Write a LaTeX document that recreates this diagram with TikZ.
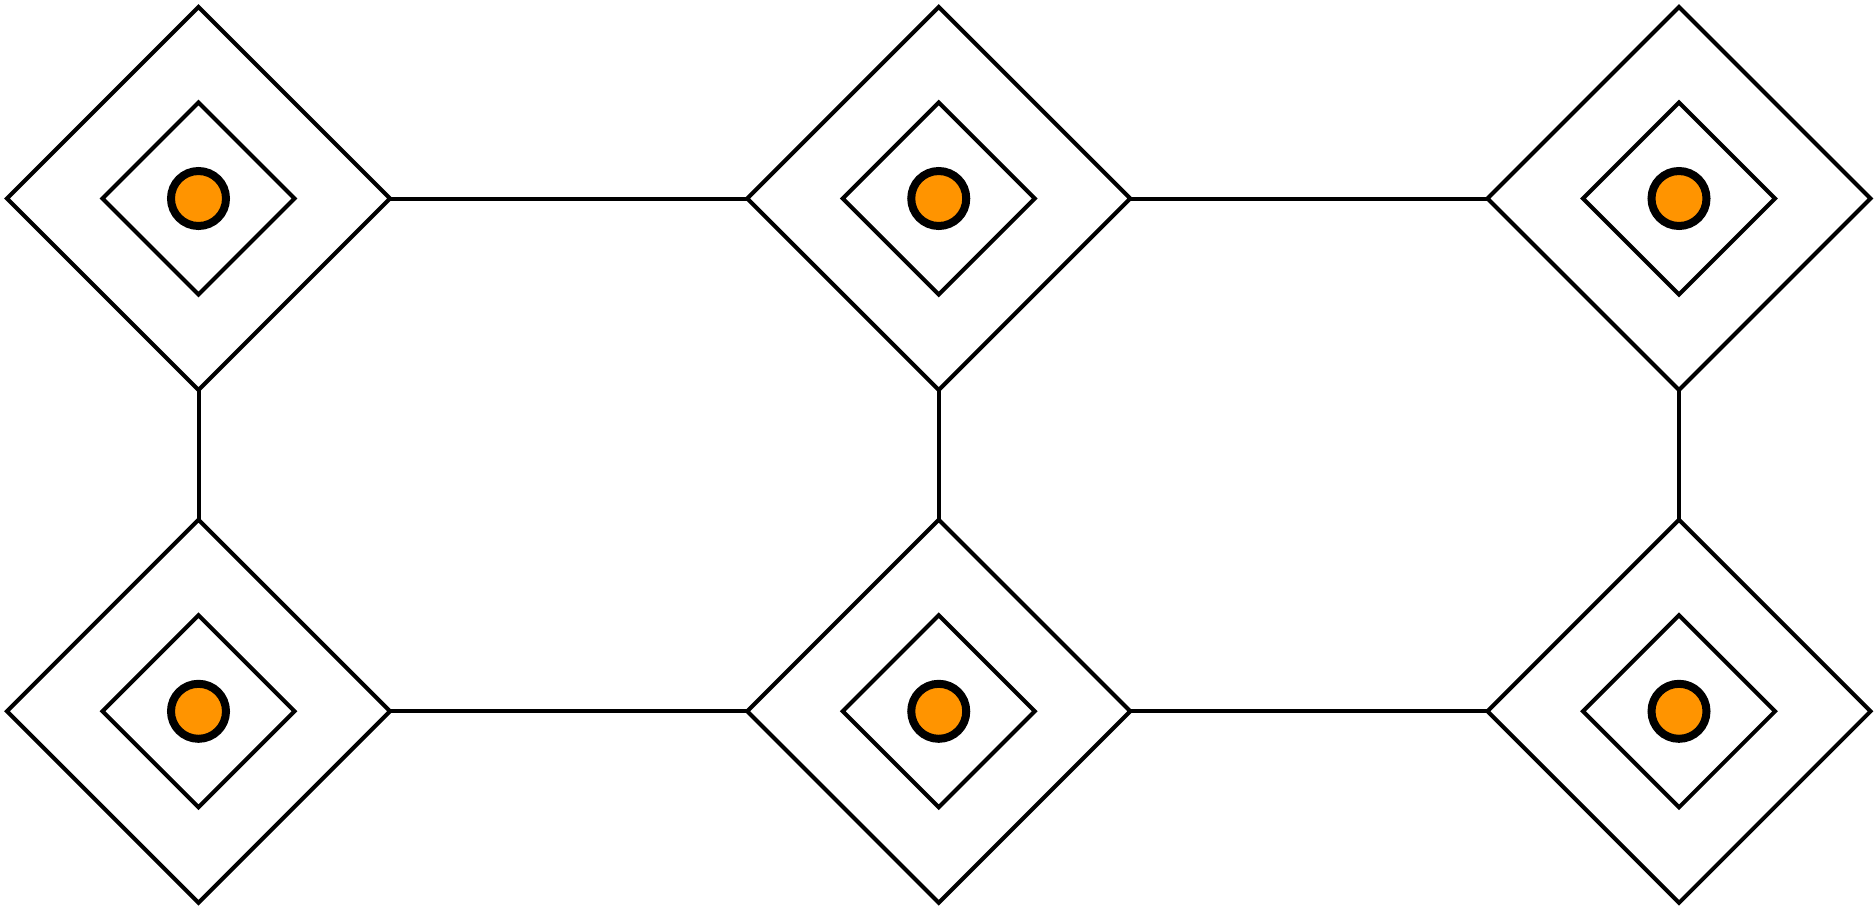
\documentclass[tikz,border=0pt]{standalone}
\usetikzlibrary{shapes.geometric}
\definecolor{dotorange}{RGB}{255,148,0}
\tikzset{
  outerd/.style={diamond, aspect=1, draw=black, line width=2pt, inner sep=0pt, outer sep=0pt, minimum size=191.5pt},
  innerd/.style={diamond, aspect=1, draw=black, line width=2pt, inner sep=0pt, outer sep=0pt, minimum size=96pt},
  dot/.style={circle, draw=black, fill=dotorange, line width=4pt, inner sep=0pt, minimum size=27.5pt},
  link/.style={draw=black, line width=2pt}
}
\begin{document}
\begin{tikzpicture}[x=0.5pt, y=-0.5pt]
\useasboundingbox (0,0) rectangle (1875,906);
\foreach \i/\xx in {1/198.5, 2/938.75, 3/1679} {
  \foreach \j/\yy in {1/198.5, 2/711.3} {
    \node[outerd] (o\i\j) at (\xx,\yy) {};
    \node[innerd] (n\i\j) at (\xx,\yy) {};
    \node[dot] (d\i\j) at (\xx,\yy) {};
  }
}
\draw[link] (o11.east) -- (o21.west);
\draw[link] (o21.east) -- (o31.west);
\draw[link] (o12.east) -- (o22.west);
\draw[link] (o22.east) -- (o32.west);
\draw[link] (o11.south) -- (o12.north);
\draw[link] (o21.south) -- (o22.north);
\draw[link] (o31.south) -- (o32.north);
\end{tikzpicture}
\end{document}
